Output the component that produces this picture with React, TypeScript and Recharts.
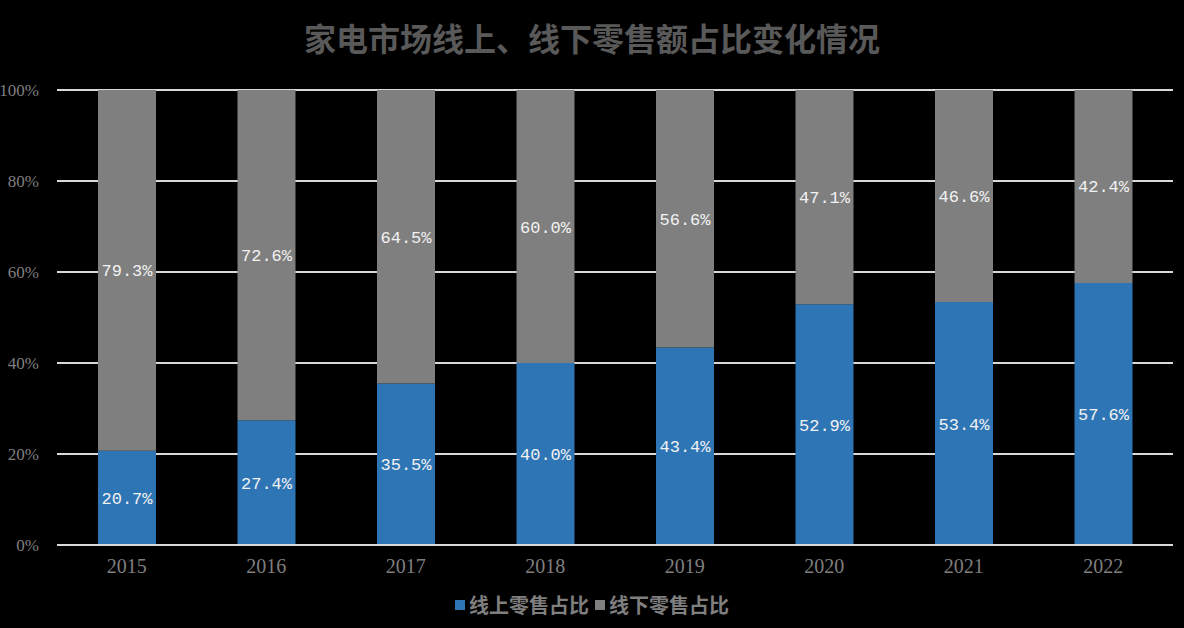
import React from "react";
import { BarChart, Bar, XAxis, YAxis, CartesianGrid, LabelList } from "recharts";

const years = ["2015", "2016", "2017", "2018", "2019", "2020", "2021", "2022"];
const onlineShare = [20.7, 27.4, 35.5, 40.0, 43.4, 52.9, 53.4, 57.6];
const offlineShare = [79.3, 72.6, 64.5, 60.0, 56.6, 47.1, 46.6, 42.4];
const yTicks = [0, 20, 40, 60, 80, 100];

const data = years.map((year, i) => ({
  year,
  online: onlineShare[i],
  offline: offlineShare[i],
}));

const BLUE = "#2e75b6";
const GRAY = "#7f7f7f";
const TEXT_GRAY = "#7f7f7f";
const cjk = '"Noto Sans CJK SC", "Noto Sans", sans-serif';

const fmt = (v: number) => `${v.toFixed(1)}%`;

const App: React.FC = () => {
  return (
    <div
      style={{
        position: "fixed",
        left: 0,
        top: 0,
        width: 1184,
        height: 628,
        background: "#000",
        overflow: "hidden",
      }}
    >
      {/* title */}
      <div
        style={{
          position: "absolute",
          top: 15,
          left: 0,
          width: 1184,
          textAlign: "center",
          fontFamily: cjk,
          fontWeight: 700,
          fontSize: 32,
          lineHeight: "44px",
          color: "#595959",
        }}
      >
        家电市场线上、线下零售额占比变化情况
      </div>

      <BarChart
        width={1184}
        height={628}
        data={data}
        margin={{ top: 90, right: 11, bottom: 0, left: 0 }}
        barCategoryGap={41}
      >
        <CartesianGrid vertical={false} stroke="#d9d9d9" strokeWidth={2} />
        <XAxis
          dataKey="year"
          height={83}
          axisLine={{ stroke: "#d9d9d9", strokeWidth: 2 }}
          tickLine={false}
          tickMargin={8}
          tick={{ fill: TEXT_GRAY, fontSize: 20, fontFamily: '"Liberation Serif", serif' }}
        />
        <YAxis
          width={57}
          domain={[0, 100]}
          ticks={yTicks}
          interval={0}
          axisLine={false}
          tickLine={false}
          tickMargin={12}
          tickFormatter={(v: number) => `${v}%`}
          tick={{ fill: TEXT_GRAY, fontSize: 17, fontFamily: '"Liberation Serif", serif' }}
        />
        <Bar dataKey="online" stackId="a" fill={BLUE} isAnimationActive={false}>
          <LabelList
            dataKey="online"
            position="center"
            formatter={fmt}
            fill="#f2f2f2"
            fontSize={17}
            fontFamily='"Liberation Mono", monospace'
          />
        </Bar>
        <Bar dataKey="offline" stackId="a" fill={GRAY} isAnimationActive={false}>
          <LabelList
            dataKey="offline"
            position="center"
            formatter={fmt}
            fill="#f2f2f2"
            fontSize={17}
            fontFamily='"Liberation Mono", monospace'
          />
        </Bar>
      </BarChart>

      {/* legend */}
      <div
        style={{
          position: "absolute",
          top: 591,
          left: 0,
          width: 1184,
          display: "flex",
          justifyContent: "center",
          alignItems: "center",
          fontFamily: cjk,
          fontWeight: 700,
          fontSize: 20,
          lineHeight: "28px",
          color: TEXT_GRAY,
        }}
      >
        <span style={{ display: "inline-block", width: 10, height: 10, background: BLUE, marginRight: 4 }} />
        <span style={{ marginRight: 6 }}>线上零售占比</span>
        <span style={{ display: "inline-block", width: 10, height: 10, background: GRAY, marginRight: 4 }} />
        <span>线下零售占比</span>
      </div>
    </div>
  );
};

export default App;
